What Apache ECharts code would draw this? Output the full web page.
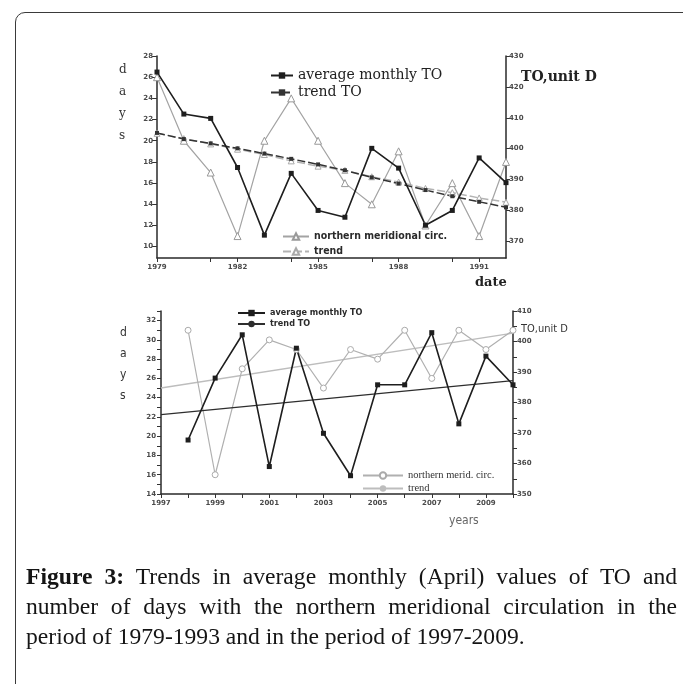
<!DOCTYPE html>
<html>
<head>
<meta charset="utf-8">
<script src="https://cdn.jsdelivr.net/npm/echarts@6/dist/echarts.min.js"></script>
<style>
  html, body { margin: 0; padding: 0; background: #fff; }
  #wrap { position: relative; width: 683px; height: 684px; overflow: hidden; background: #fff; }
  #frame { position: absolute; left: 15px; top: 12px; width: 740px; height: 740px;
           border: 1px solid #3a3a3a; border-radius: 10px; }
  #chart { position: absolute; left: 0; top: 0; width: 683px; height: 684px; }
  #caption { position: absolute; left: 26px; top: 561px; width: 651px;
             font-family: 'Liberation Serif', 'DejaVu Serif', serif; font-size: 23.6px;
             line-height: 30px; color: #151515; }
  #caption .full { text-align: justify; text-align-last: justify; white-space: nowrap; }
  #caption b { font-weight: bold; }
</style>
</head>
<body>
<div id="wrap">
  <div id="frame"></div>
  <div id="chart"></div>
  <div id="caption">
    <div class="full"><b>Figure 3:</b> Trends in average monthly (April) values of TO and</div>
    <div class="full">number of days with the northern meridional circulation in the</div>
    <div>period of 1979-1993 and in the period of 1997-2009.</div>
  </div>
</div>
<script>
// ---- Upper panel: 1979-1992 ----
const yearsA = [1979, 1980, 1981, 1982, 1983, 1984, 1985, 1986, 1987, 1988, 1989, 1990, 1991, 1992];
const toMonthlyA = [424.8, 411.2, 409.8, 393.9, 372.0, 392.0, 380.0, 377.8, 400.1, 393.7, 375.2, 380.0, 397.0, 389.0];
const toTrendA = [405.1, 403.1, 401.7, 400.1, 398.4, 396.7, 394.9, 393.0, 390.7, 388.7, 386.6, 384.6, 382.8, 381.0];
const nmcDaysA = [26, 20, 17, 11, 20, 24, 20, 16, 14, 19, 12, 16, 11, 18];
const nmcTrendA = [20.7, 20.2, 19.7, 19.2, 18.7, 18.1, 17.6, 17.2, 16.6, 16.1, 15.5, 15.1, 14.6, 14.2];
const xLabelsA = [1979, 1982, 1985, 1988, 1991];
const xTicksA = [1979, 1981, 1982, 1984, 1985, 1987, 1988, 1990, 1991];
const daysLabelsA = [10, 12, 14, 16, 18, 20, 22, 24, 26, 28];
const toLabelsA = [370, 380, 390, 400, 410, 420, 430];

// ---- Lower panel: 1998-2010 ----
const yearsB = [1998, 1999, 2000, 2001, 2002, 2003, 2004, 2005, 2006, 2007, 2008, 2009, 2010];
const toMonthlyB = [367.7, 388.0, 402.2, 359.0, 397.8, 369.9, 356.0, 385.8, 385.8, 402.9, 373.0, 395.2, 385.8];
const nmcDaysB = [31, 16, 27, 30, 29, 25, 29, 28, 31, 26, 31, 29, 31];
const trendYearsB = [1997, 2010];
const toTrendB = [376.0, 387.2];
const nmcTrendB = [25.0, 30.7];
const xLabelsB = [1997, 1999, 2001, 2003, 2005, 2007, 2009];
const xTicksB = [1997, 1998, 1999, 2000, 2001, 2002, 2003, 2004, 2005, 2006, 2007, 2008, 2009, 2010];
const daysLabelsB = [14, 16, 18, 20, 22, 24, 26, 28, 30, 32];
const daysTicksB = [14, 15, 16, 17, 18, 19, 20, 21, 22, 23, 24, 25, 26, 27, 28, 29, 30, 31, 32, 33];
const toLabelsB = [350, 360, 370, 380, 390, 400, 410];
const toTicksB = [350, 355, 360, 365, 370, 375, 380, 385, 390, 395, 400, 405, 410];

const legendText = {
  avgA: 'average monthly TO', trendA: 'trend TO',
  nmcA: 'northern meridional circ.', nmcTrA: 'trend',
  avgB: 'average monthly TO', trendB: 'trend TO',
  nmcB: 'northern merid. circ.', nmcTrB: 'trend'
};

const pairs = (xs, ys) => xs.map((x, i) => [x, ys[i]]);

const INK = '#1e1e1e';
const GREY = '#a3a3a3';
const NARROW = "'DejaVu Sans Condensed', 'Liberation Sans Narrow', 'Roboto', sans-serif";
const axisLine = { show: true, lineStyle: { color: '#2a2a2a', width: 1.5 } };
const tickFont = { fontSize: 7, fontWeight: 'bold', color: '#4a4a4a', fontFamily: 'DejaVu Sans' };
const plain = v => String(v);

function valueAxis(extra) {
  return Object.assign({
    type: 'value',
    axisLine: axisLine,
    splitLine: { show: false },
    scale: true
  }, extra);
}

const chart = echarts.init(document.getElementById('chart'), null, { renderer: 'canvas' });

chart.setOption({
  animation: false,
  backgroundColor: 'transparent',
  grid: [
    { left: 157, right: 177, top: 56, bottom: 426 },
    { left: 161, right: 170, top: 311, bottom: 190 }
  ],
  xAxis: [
    valueAxis({
      gridIndex: 0, min: 1979, max: 1992,
      axisTick: { show: true, customValues: xTicksA, length: 4, lineStyle: { color: '#333' } },
      axisLabel: Object.assign({ customValues: xLabelsA, margin: 6, formatter: plain }, tickFont)
    }),
    valueAxis({
      gridIndex: 1, min: 1997, max: 2010,
      axisTick: { show: true, customValues: xTicksB, length: 4, lineStyle: { color: '#333' } },
      axisLabel: Object.assign({ customValues: xLabelsB, margin: 6, formatter: plain }, tickFont)
    })
  ],
  yAxis: [
    valueAxis({
      gridIndex: 0, position: 'left', min: 8.93, max: 28,
      axisTick: { show: true, customValues: daysLabelsA, length: 5, lineStyle: { color: '#333' } },
      axisLabel: Object.assign({ customValues: daysLabelsA, margin: 4, formatter: plain }, tickFont)
    }),
    valueAxis({
      gridIndex: 0, position: 'right', min: 364.6, max: 430,
      axisTick: { show: true, customValues: toLabelsA, length: 4, lineStyle: { color: '#333' } },
      axisLabel: Object.assign({ customValues: toLabelsA, margin: 3, formatter: plain }, tickFont)
    }),
    valueAxis({
      gridIndex: 1, position: 'left', min: 14, max: 33,
      axisTick: { show: true, customValues: daysTicksB, length: 4, lineStyle: { color: '#333' } },
      axisLabel: Object.assign({ customValues: daysLabelsB, margin: 5, formatter: plain }, tickFont)
    }),
    valueAxis({
      gridIndex: 1, position: 'right', min: 350, max: 410,
      axisTick: { show: true, customValues: toTicksB, length: 4, lineStyle: { color: '#333' } },
      axisLabel: Object.assign({ customValues: toLabelsB, margin: 4, formatter: plain }, tickFont)
    })
  ],
  legend: [
    {
      data: ['avgA', 'trendA'], orient: 'vertical', left: 265, top: 63,
      itemWidth: 22, itemHeight: 8, itemGap: 2,
      formatter: n => legendText[n],
      textStyle: { fontFamily: 'DejaVu Serif', fontSize: 14, color: '#222', lineHeight: 15 }
    },
    {
      data: ['nmcA', 'nmcTrA'], orient: 'vertical', left: 277, top: 225,
      itemWidth: 26, itemHeight: 8, itemGap: 2,
      formatter: n => legendText[n],
      textStyle: { fontFamily: NARROW, fontWeight: 'bold', fontSize: 10.5, color: '#2a2a2a', lineHeight: 13 }
    },
    {
      data: ['avgB', 'trendB'], orient: 'vertical', left: 232, top: 303,
      itemWidth: 27, itemHeight: 8, itemGap: 1,
      formatter: n => legendText[n],
      textStyle: { fontFamily: NARROW, fontWeight: 'bold', fontSize: 9, color: '#2a2a2a', lineHeight: 10 }
    },
    {
      data: ['nmcB', 'nmcTrB'], orient: 'vertical', left: 357, top: 465,
      itemWidth: 40, itemHeight: 8, itemGap: 2,
      formatter: n => legendText[n],
      textStyle: { fontFamily: 'Liberation Serif', fontSize: 10.5, color: '#333', lineHeight: 10 }
    }
  ],
  graphic: [
    { type: 'text', left: 119, top: 59, style: { text: 'd\na\ny\ns', fontFamily: 'DejaVu Serif', fontSize: 12, lineHeight: 22, fill: '#333', align: 'center' } },
    { type: 'text', left: 120, top: 322, style: { text: 'd\na\ny\ns', fontFamily: NARROW, fontSize: 12, lineHeight: 21, fill: '#333', align: 'center' } },
    { type: 'text', left: 521, top: 70, style: { text: 'TO,unit D', fontFamily: 'DejaVu Serif', fontWeight: 'bold', fontSize: 14, fill: '#222' } },
    { type: 'text', left: 475, top: 276, style: { text: 'date', fontFamily: 'DejaVu Serif', fontWeight: 'bold', fontSize: 13, fill: '#222' } },
    { type: 'text', left: 521, top: 324, style: { text: 'TO,unit D', fontFamily: NARROW, fontSize: 11, fill: '#333' } },
    { type: 'text', left: 449, top: 515, style: { text: 'years', fontFamily: NARROW, fontSize: 12, fill: '#666' } }
  ],
  series: [
    {
      name: 'nmcTrA', type: 'line', xAxisIndex: 0, yAxisIndex: 0, data: pairs(yearsA, nmcTrendA),
      symbol: 'triangle', symbolSize: 6,
      lineStyle: { color: '#b3b3b3', width: 1.5, type: [8, 3] },
      itemStyle: { color: '#fff', borderColor: '#aaa', borderWidth: 1 }
    },
    {
      name: 'nmcA', type: 'line', xAxisIndex: 0, yAxisIndex: 0, data: pairs(yearsA, nmcDaysA),
      symbol: 'triangle', symbolSize: 7,
      lineStyle: { color: GREY, width: 1.2 },
      itemStyle: { color: '#fff', borderColor: '#999', borderWidth: 1 }
    },
    {
      name: 'trendA', type: 'line', xAxisIndex: 0, yAxisIndex: 1, data: pairs(yearsA, toTrendA),
      symbol: 'rect', symbolSize: 4,
      lineStyle: { color: '#333', width: 1.5, type: [8, 3] },
      itemStyle: { color: '#333' }
    },
    {
      name: 'avgA', type: 'line', xAxisIndex: 0, yAxisIndex: 1, data: pairs(yearsA, toMonthlyA),
      symbol: 'rect', symbolSize: 5,
      lineStyle: { color: INK, width: 1.6 },
      itemStyle: { color: INK }
    },
    {
      name: 'nmcTrB', type: 'line', xAxisIndex: 1, yAxisIndex: 2, data: pairs(trendYearsB, nmcTrendB),
      symbol: 'none',
      lineStyle: { color: '#bdbdbd', width: 1.4 },
      itemStyle: { color: '#bdbdbd' }
    },
    {
      name: 'nmcB', type: 'line', xAxisIndex: 1, yAxisIndex: 2, data: pairs(yearsB, nmcDaysB),
      symbol: 'circle', symbolSize: 6,
      lineStyle: { color: '#b0b0b0', width: 1.2 },
      itemStyle: { color: '#fff', borderColor: '#aaa', borderWidth: 1 }
    },
    {
      name: 'trendB', type: 'line', xAxisIndex: 1, yAxisIndex: 3, data: pairs(trendYearsB, toTrendB),
      symbol: 'none',
      lineStyle: { color: '#2e2e2e', width: 1.3 },
      itemStyle: { color: '#2e2e2e' }
    },
    {
      name: 'avgB', type: 'line', xAxisIndex: 1, yAxisIndex: 3, data: pairs(yearsB, toMonthlyB),
      symbol: 'rect', symbolSize: 5,
      lineStyle: { color: INK, width: 1.6 },
      itemStyle: { color: INK }
    }
  ]
});
</script>
</body>
</html>
